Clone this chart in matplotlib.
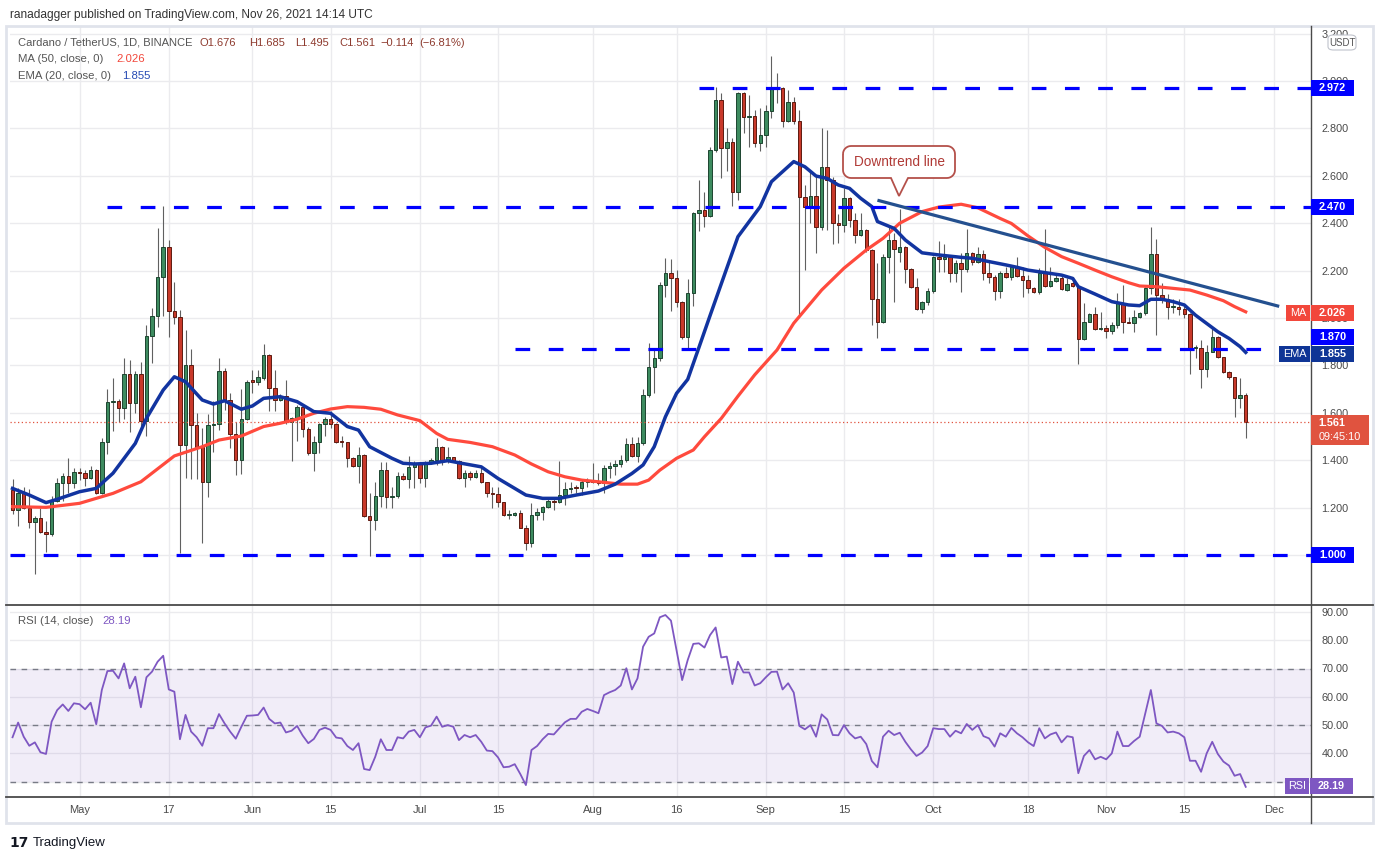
import numpy as np
import pandas as pd
import matplotlib
matplotlib.use("Agg")
import matplotlib.pyplot as plt
from matplotlib.patches import Rectangle, PathPatch, FancyBboxPatch
from matplotlib.path import Path
from matplotlib.lines import Line2D

plt.rcParams['font.family'] = ['Liberation Sans', 'DejaVu Sans']

# ---------------- data ----------------
start_date = "2021-04-19"

open_ = [1.274,1.190,1.260,1.197,1.138,1.155,1.096,1.087,1.229,1.302,
1.333,1.302,1.349,1.346,1.323,1.358,1.263,1.475,1.644,1.650,
1.619,1.762,1.640,1.762,1.565,1.925,2.008,2.174,2.298,2.030,
2.003,1.464,1.802,1.548,1.457,1.309,1.548,1.553,1.776,1.654,
1.509,1.401,1.573,1.738,1.731,1.748,1.844,1.703,1.654,1.672,
1.563,1.577,1.623,1.530,1.432,1.475,1.551,1.573,1.551,1.478,
1.475,1.411,1.377,1.422,1.166,1.148,1.250,1.359,1.246,1.249,
1.335,1.321,1.370,1.390,1.326,1.391,1.401,1.457,1.398,1.412,
1.398,1.323,1.344,1.330,1.344,1.306,1.260,1.258,1.222,1.169,
1.170,1.176,1.116,1.049,1.169,1.183,1.201,1.228,1.222,1.253,
1.278,1.284,1.281,1.309,1.316,1.309,1.302,1.365,1.377,1.384,
1.401,1.467,1.419,1.471,1.675,1.792,1.830,2.139,2.188,2.167,
2.069,1.921,2.104,2.441,2.456,2.432,2.709,2.920,2.719,2.741,
2.530,2.948,2.850,2.854,2.737,2.772,2.873,2.965,2.969,2.833,
2.913,2.833,2.512,2.470,2.516,2.383,2.639,2.582,2.402,2.392,
2.505,2.413,2.350,2.371,2.287,2.079,1.985,2.256,2.329,2.277,
2.301,2.205,2.129,2.037,2.066,2.114,2.259,2.248,2.256,2.188,
2.231,2.207,2.276,2.235,2.270,2.188,2.172,2.115,2.188,2.172,
2.217,2.179,2.160,2.125,2.108,2.188,2.136,2.156,2.170,2.118,
2.146,2.136,1.910,1.984,2.017,1.952,1.959,1.947,1.970,2.062,
1.982,1.980,2.003,2.020,2.125,2.269,2.097,2.079,2.045,2.048,
2.040,2.017,1.872,1.875,1.783,1.858,1.918,1.834,1.773,1.749,
1.661,1.676]

high = [1.321,1.281,1.285,1.278,1.165,1.197,1.143,1.249,1.326,1.344,
1.408,1.366,1.366,1.358,1.375,1.361,1.495,1.700,1.745,1.658,
1.830,1.823,1.776,1.816,1.970,2.041,2.378,2.473,2.329,2.150,
2.034,1.949,1.869,1.600,1.534,1.594,1.650,1.833,1.788,1.682,
1.560,1.699,1.738,1.781,1.781,1.890,1.848,1.781,1.678,1.738,
1.581,1.633,1.633,1.542,1.502,1.556,1.584,1.608,1.556,1.502,
1.478,1.415,1.457,1.425,1.260,1.307,1.394,1.391,1.288,1.352,
1.345,1.418,1.397,1.394,1.397,1.408,1.492,1.460,1.457,1.415,
1.401,1.358,1.354,1.358,1.370,1.310,1.288,1.288,1.225,1.190,
1.183,1.190,1.126,1.218,1.197,1.207,1.239,1.239,1.396,1.309,
1.309,1.295,1.320,1.326,1.387,1.344,1.380,1.394,1.401,1.422,
1.492,1.496,1.499,1.699,1.893,1.872,2.153,2.252,2.247,2.202,
2.073,2.164,2.448,2.582,2.533,2.723,2.973,2.948,2.800,2.758,
2.955,2.952,2.941,2.878,2.885,2.899,3.106,3.032,2.975,2.962,
2.934,2.878,2.561,2.624,2.603,2.800,2.793,2.596,2.439,2.547,
2.510,2.442,2.442,2.375,2.290,2.231,2.270,2.385,2.357,2.458,
2.305,2.210,2.170,2.070,2.125,2.262,2.326,2.311,2.259,2.245,
2.276,2.374,2.280,2.298,2.287,2.238,2.181,2.198,2.217,2.224,
2.256,2.217,2.181,2.132,2.210,2.374,2.214,2.181,2.179,2.167,
2.174,2.140,2.062,2.020,2.048,2.027,1.970,1.985,2.107,2.139,
2.006,2.034,2.027,2.132,2.383,2.332,2.149,2.100,2.079,2.079,
2.050,2.020,1.886,1.907,1.886,1.959,1.924,1.837,1.778,1.752,
1.745,1.685]

low = [1.172,1.124,1.195,1.112,0.918,1.091,1.014,1.080,1.225,1.229,
1.263,1.281,1.317,1.293,1.321,1.257,1.257,1.426,1.525,1.560,
1.574,1.518,1.598,1.544,1.502,1.812,1.963,2.010,1.918,1.973,
1.007,1.323,1.319,1.319,1.049,1.246,1.436,1.527,1.612,1.450,
1.336,1.342,1.570,1.682,1.717,1.738,1.608,1.608,1.650,1.553,
1.398,1.482,1.499,1.422,1.356,1.432,1.502,1.534,1.471,1.457,
1.373,1.370,1.302,1.160,0.997,1.106,1.201,1.197,1.197,1.239,
1.318,1.281,1.281,1.302,1.286,1.384,1.380,1.380,1.390,1.394,
1.321,1.285,1.316,1.327,1.302,1.246,1.197,1.204,1.164,1.152,
1.164,1.112,1.021,1.035,1.147,1.147,1.197,1.190,1.218,1.211,
1.260,1.260,1.253,1.285,1.302,1.295,1.260,1.323,1.337,1.373,
1.394,1.415,1.394,1.464,1.668,1.682,1.818,2.087,2.031,2.048,
1.910,1.872,2.050,2.368,2.385,2.428,2.702,2.592,2.620,2.474,
2.498,2.779,2.723,2.723,2.706,2.723,2.842,2.906,2.805,2.828,
2.820,2.006,2.203,2.399,2.273,2.371,2.371,2.312,2.315,2.364,
2.385,2.318,2.346,2.280,1.970,1.914,1.980,2.188,2.066,2.238,
2.146,2.125,2.034,2.022,2.055,2.104,2.195,2.195,2.153,2.150,
2.111,2.195,2.224,2.231,2.160,2.146,2.076,2.083,2.167,2.160,
2.174,2.090,2.104,2.104,2.101,2.132,2.132,2.153,2.118,2.115,
2.132,1.806,1.907,1.982,1.949,1.949,1.914,1.931,1.956,1.935,
1.978,1.942,1.999,2.013,2.100,1.928,2.064,1.994,2.022,2.012,
2.000,1.762,1.832,1.703,1.752,1.855,1.830,1.766,1.741,1.583,
1.619,1.495]

close_ = [1.190,1.260,1.197,1.138,1.155,1.096,1.087,1.229,1.302,1.333,
1.302,1.349,1.346,1.323,1.358,1.263,1.475,1.644,1.650,1.619,
1.762,1.640,1.762,1.565,1.925,2.008,2.174,2.298,2.030,2.003,
1.464,1.802,1.548,1.457,1.309,1.548,1.553,1.776,1.654,1.509,
1.401,1.573,1.731,1.731,1.752,1.844,1.703,1.654,1.672,1.563,
1.577,1.623,1.530,1.432,1.475,1.551,1.573,1.551,1.478,1.475,
1.411,1.377,1.422,1.166,1.148,1.250,1.359,1.246,1.249,1.335,
1.321,1.370,1.390,1.326,1.391,1.401,1.457,1.398,1.412,1.398,
1.323,1.344,1.330,1.344,1.306,1.260,1.258,1.222,1.169,1.170,
1.176,1.116,1.049,1.169,1.183,1.201,1.228,1.222,1.253,1.278,
1.284,1.281,1.309,1.316,1.309,1.302,1.365,1.377,1.384,1.401,
1.467,1.419,1.471,1.675,1.792,1.830,2.139,2.188,2.167,2.069,
1.921,2.104,2.441,2.456,2.432,2.709,2.920,2.719,2.741,2.530,
2.948,2.850,2.854,2.737,2.772,2.873,2.965,2.969,2.833,2.913,
2.833,2.512,2.470,2.516,2.383,2.639,2.582,2.402,2.392,2.505,
2.413,2.350,2.371,2.287,2.079,1.985,2.256,2.329,2.291,2.301,
2.205,2.129,2.037,2.066,2.114,2.256,2.248,2.256,2.188,2.231,
2.207,2.276,2.235,2.270,2.188,2.172,2.115,2.188,2.172,2.217,
2.179,2.160,2.125,2.108,2.188,2.136,2.156,2.170,2.121,2.142,
2.136,1.910,1.984,2.017,1.952,1.959,1.947,1.970,2.062,1.982,
1.980,2.003,2.020,2.125,2.269,2.097,2.079,2.045,2.048,2.040,
2.017,1.872,1.875,1.783,1.858,1.918,1.834,1.773,1.749,1.661,
1.676,1.561]

# EMA(20) and MA(50) read at sampled days (day offset from start_date)
ema_day = [0,3,6,8,12,15,18,22,24,27,29,31,34,36,38,41,43,45,48,51,
54,57,60,62,64,68,70,72,75,78,80,84,87,92,95,98,101,105,108,111,
113,115,117,119,121,123,125,128,130,134,136,140,142,144,146,148,150,152,154,155,
158,160,163,166,170,172,175,178,180,182,184,188,190,191,194,197,200,202,204,206,
208,210,212,214,216,218,220,221]
ema_val = [1.281,1.253,1.221,1.235,1.267,1.281,1.345,1.471,1.577,1.696,1.752,1.731,1.654,1.637,1.651,1.615,1.629,1.661,1.668,1.647,
1.605,1.598,1.542,1.527,1.457,1.408,1.387,1.384,1.387,1.398,1.389,1.372,1.323,1.253,1.239,1.239,1.253,1.270,1.299,1.344,
1.380,1.457,1.583,1.682,1.741,1.875,2.010,2.210,2.343,2.470,2.575,2.660,2.638,2.599,2.589,2.561,2.547,2.505,2.470,2.407,
2.378,2.329,2.275,2.266,2.256,2.252,2.238,2.224,2.214,2.202,2.195,2.181,2.167,2.132,2.101,2.069,2.055,2.052,2.079,2.079,
2.069,2.055,2.012,1.977,1.942,1.914,1.879,1.855]

ma_day = [0,6,12,18,23,29,34,37,41,45,48,51,54,57,60,63,66,69,73,76,
78,82,86,90,93,96,99,102,105,109,112,114,116,119,122,124,127,130,133,137,
140,145,149,153,156,159,163,166,170,173,177,179,182,185,188,191,194,197,200,202,
205,208,211,214,217,219,221]
ma_val = [1.204,1.201,1.218,1.260,1.309,1.418,1.457,1.485,1.502,1.542,1.556,1.573,1.598,1.616,1.626,1.623,1.615,1.591,1.567,1.513,
1.488,1.475,1.457,1.422,1.384,1.351,1.330,1.316,1.309,1.299,1.299,1.316,1.358,1.408,1.443,1.499,1.576,1.670,1.760,1.865,
1.978,2.118,2.210,2.287,2.336,2.400,2.449,2.468,2.480,2.465,2.420,2.399,2.346,2.298,2.259,2.231,2.202,2.174,2.149,2.135,
2.132,2.125,2.118,2.097,2.073,2.048,2.026]

rsi = [45.7,50.9,45.9,42.7,43.9,40.4,39.8,51.2,55.3,57.3,
55.0,57.7,57.4,55.6,57.9,50.3,62.4,69.1,69.2,66.5,
71.8,63.0,67.1,56.3,66.9,68.9,72.4,74.5,62.6,61.8,
45.0,53.6,47.7,45.7,42.7,48.9,48.9,53.9,50.6,47.7,
45.2,49.4,53.3,53.4,53.6,56.2,52.2,50.6,50.9,47.4,
48.0,49.7,46.3,43.6,45.1,48.3,49.1,48.3,45.6,45.3,
42.6,41.2,43.6,34.5,34.1,38.8,45.0,41.2,41.2,45.7,
45.3,47.7,48.3,45.7,49.2,49.8,53.0,49.4,50.0,49.4,
44.7,46.5,45.7,46.5,44.1,41.0,40.8,38.6,35.1,35.3,
36.2,32.7,28.8,41.2,42.6,45.0,46.9,46.7,48.9,51.0,
52.2,52.2,54.7,55.7,55.0,54.2,60.6,61.6,62.4,64.0,
70.1,62.6,66.5,77.7,81.2,82.4,88.1,88.9,86.9,76.5,
65.9,73.0,78.7,78.9,
77.4,81.8,84.5,73.9,74.2,64.5,72.4,68.6,68.6,64.0,
64.8,66.9,68.8,68.9,62.6,64.8,61.5,49.7,48.5,50.0,
45.9,53.8,52.0,46.5,46.4,50.0,47.1,45.3,45.9,43.3,
37.3,35.1,45.9,48.0,46.5,47.3,44.1,41.4,39.1,40.3,
42.6,48.9,48.6,48.6,45.9,48.0,47.1,50.4,48.3,50.0,
46.1,45.3,42.4,47.1,45.9,49.0,47.1,45.7,43.9,42.6,
48.9,45.3,46.7,47.4,43.9,46.1,45.7,33.0,39.1,41.2,
37.9,38.8,37.9,40.0,47.7,42.6,42.6,44.4,45.9,54.2,
62.4,50.6,49.7,47.4,47.7,47.1,45.7,37.4,37.4,33.5,
40.0,44.1,39.8,37.1,35.7,32.1,32.7,28.19]

level_values = [2.972, 2.470, 1.870, 1.000]
level_labels = ["2.972", "2.470", "1.870", "1.000"]
level_start = ["2021-08-20", "2021-05-06", "2021-07-18", None]

trend_dates = ["2021-09-21", "2021-12-02"]
trend_values = [2.497, 2.049]

tick_dates = ["2021-05-01", "2021-05-17", "2021-06-01", "2021-06-15", "2021-07-01",
              "2021-07-15", "2021-08-01", "2021-08-16", "2021-09-01", "2021-09-15",
              "2021-10-01", "2021-10-18", "2021-11-01", "2021-11-15", "2021-12-01"]
tick_labels = ["May", "17", "Jun", "15", "Jul", "15", "Aug", "16", "Sep", "15",
               "Oct", "18", "Nov", "15", "Dec"]

price_ticks = [1.0, 1.2, 1.4, 1.6, 1.8, 2.0, 2.2, 2.4, 2.6, 2.8, 3.0, 3.2]
rsi_ticks = [30, 40, 50, 60, 70, 80, 90]

# ---------------- layout helpers ----------------
W, H = 1383, 860
t0 = pd.Timestamp(start_date)
def dpos(d):
    return (pd.Timestamp(d) - t0).days

def fx(px): return px / W
def fy(py): return 1 - py / H
def px_to_price(py): return 1 + (555 - py) / 237.0
def px_to_idx(px): return 12 + (px - 79.5) / 5.58
def px_to_rsi(py): return 30 + (781.7 - py) / 2.83

fig = plt.figure(figsize=(W / 100, H / 100), dpi=100)
fig.patch.set_facecolor("white")

axp = fig.add_axes([fx(10), fy(605), fx(1311) - fx(10), fy(26) - fy(605)])
axr = fig.add_axes([fx(10), fy(797), fx(1311) - fx(10), fy(605) - fy(797)])
xl = (px_to_idx(10), px_to_idx(1311))
for a in (axp, axr):
    a.set_xlim(xl)
    a.set_facecolor("white")
    for s in a.spines.values():
        s.set_visible(False)
axp.set_ylim(px_to_price(605), px_to_price(26))
axr.set_ylim(px_to_rsi(797), px_to_rsi(605))

tick_pos = [dpos(d) for d in tick_dates]
grid_c = "#ebebee"
for a in (axp, axr):
    a.set_xticks(tick_pos)
    a.grid(True, color=grid_c, lw=1.0, zorder=0)
    a.set_axisbelow(True)
    a.yaxis.tick_right()
axp.tick_params(axis="x", length=0, labelbottom=False)
axr.set_xticklabels(tick_labels)
axr.tick_params(axis="x", length=0, pad=6, labelsize=8, labelcolor="#4a4a4a")

axp.set_yticks(price_ticks)
axp.set_yticklabels(["%.3f" % v for v in price_ticks])
axp.tick_params(axis="y", length=0, pad=7.5, labelsize=7.8, labelcolor="#4a4a4a")
axr.set_yticks(rsi_ticks)
axr.set_yticklabels(["%.2f" % v for v in rsi_ticks])
axr.tick_params(axis="y", length=0, pad=7.5, labelsize=7.8, labelcolor="#4a4a4a")

# ---------------- candles ----------------
o = np.array(open_); h = np.array(high); l = np.array(low); c = np.array(close_)
idx = np.arange(len(c))
up = c >= o
axp.vlines(idx, l, h, color="#606060", lw=0.8, zorder=2)
bb = np.minimum(o, c)
bh = np.maximum(np.abs(c - o), 0.004)
axp.bar(idx[up], bh[up], bottom=bb[up], width=0.62, color="#3d8b5f",
        edgecolor="#1d4530", linewidth=0.7, zorder=3)
axp.bar(idx[~up], bh[~up], bottom=bb[~up], width=0.62, color="#c8392a",
        edgecolor="#5e1a10", linewidth=0.7, zorder=3)

# moving averages
axp.plot(ma_day, ma_val, color="#ff4a3d", lw=2.3, zorder=5, solid_joinstyle="round")
axp.plot(ema_day, ema_val, color="#1234a0", lw=2.5, zorder=6, solid_joinstyle="round")

# horizontal levels
for v, s in zip(level_values, level_start):
    x0 = xl[0] if s is None else dpos(s)
    axp.plot([x0, xl[1]], [v, v], color="#0000ff", lw=2.3, dashes=(4.6, 5.8),
             zorder=7, solid_capstyle="butt", dash_capstyle="butt")

# downtrend line
axp.plot([dpos(d) for d in trend_dates], trend_values, color="#24508f", lw=2.3,
         zorder=8, solid_capstyle="butt")

# last price dotted line
axp.axhline(close_[-1], color="#e0533f", lw=0.9, ls=(0, (1, 2)), zorder=4)

# ---------------- RSI ----------------
axr.axhspan(30, 70, color="#7e57c2", alpha=0.1, lw=0, zorder=1)
for v in (30, 50, 70):
    axr.axhline(v, color="#787b86", lw=1.0, dashes=(4, 4), zorder=2)
axr.plot(idx, rsi, color="#7e57c2", lw=1.3, zorder=3)

# ---------------- frame & separators ----------------
fig.add_artist(Rectangle((fx(6), fy(823)), fx(1373) - fx(6), fy(26) - fy(823),
                         transform=fig.transFigure, fill=False, ec="#e0e3eb", lw=2, zorder=1))
for yy in (605, 797):
    fig.add_artist(Line2D([fx(6), fx(1373)], [fy(yy), fy(yy)], transform=fig.transFigure,
                          color="#4a4a4a", lw=1.3, zorder=2))
fig.add_artist(Line2D([fx(1311), fx(1311)], [fy(26), fy(823)], transform=fig.transFigure,
                      color="#4a4a4a", lw=1.0, zorder=2))

# ---------------- label boxes on the right axis ----------------
def box(x0, x1, yc, hgt, fc, text, tc="white", fs=7.8, weight="bold"):
    fig.add_artist(Rectangle((fx(x0), fy(yc + hgt / 2)), fx(x1) - fx(x0), hgt / H,
                             transform=fig.transFigure, fc=fc, ec="none", zorder=5))
    fig.text(fx((x0 + x1) / 2), fy(yc), text, color=tc, ha="center", va="center",
             fontsize=fs, fontweight=weight, zorder=6)

def price_to_px(p): return 555 - (p - 1) * 237.0

for v, lab in zip(level_values, level_labels):
    yc = price_to_px(v)
    if lab == "1.870":
        yc = 337
    box(1311, 1354, yc, 16, "#0000ff", lab)

box(1286, 1310, 313, 16, "#f2473b", "MA", weight="normal")
box(1311, 1354, 313, 16, "#f2473b", "2.026")
box(1279, 1310, 354, 16, "#0f3596", "EMA", weight="normal")
box(1311, 1354, 354, 16, "#0f3596", "1.855")
# last price box (two lines)
fig.add_artist(Rectangle((fx(1311), fy(445)), fx(1369) - fx(1311), 30 / H,
                         transform=fig.transFigure, fc="#e0533f", ec="none", zorder=5))
fig.text(fx(1332), fy(423), "1.561", color="white", ha="center", va="center",
         fontsize=7.8, fontweight="bold", zorder=6)
fig.text(fx(1340), fy(437.5), "09:45:10", color="white", ha="center", va="center",
         fontsize=7.8, zorder=6)
box(1285, 1309, 786, 16, "#7e57c2", "RSI", weight="normal")
box(1310, 1353, 786, 16, "#7e57c2", "28.19")

# USDT tag
fig.add_artist(FancyBboxPatch((fx(1328), fy(50)), fx(1356) - fx(1328), 15 / H,
                              boxstyle="round,pad=0.0,rounding_size=0.004",
                              transform=fig.transFigure, fc="white", ec="#c0c3cc",
                              lw=0.8, zorder=5))
fig.text(fx(1342), fy(42.5), "USDT", color="#555555", ha="center", va="center",
         fontsize=7, zorder=6)

# ---------------- callout ----------------
def callout(x0, y0, x1, y1, r, tb0, tb1, tip):
    pts = []
    def arc(cx, cy, a0, a1):
        for t in np.linspace(a0, a1, 8):
            pts.append((cx + r * np.cos(t), cy + r * np.sin(t)))
    arc(x0 + r, y0 + r, np.pi, 1.5 * np.pi)
    arc(x1 - r, y0 + r, 1.5 * np.pi, 2 * np.pi)
    arc(x1 - r, y1 - r, 0, 0.5 * np.pi)
    pts += [(tb1, y1), tip, (tb0, y1)]
    arc(x0 + r, y1 - r, 0.5 * np.pi, np.pi)
    pts.append(pts[0])
    verts = [(fx(a), fy(b)) for a, b in pts]
    return Path(verts)

fig.add_artist(PathPatch(callout(843, 146, 955, 178, 8, 891, 908, (899, 196)),
                         transform=fig.transFigure, fc="white", ec="#b4504a",
                         lw=1.3, zorder=5))
fig.text(fx(899), fy(162), "Downtrend line", color="#b03a36", ha="center",
         va="center", fontsize=9.8, zorder=6)

# ---------------- header texts ----------------
fig.text(fx(10), fy(15), "ranadagger published on TradingView.com, Nov 26, 2021 14:14 UTC",
         fontsize=8.6, color="#333333", va="center")
fig.text(fx(18), fy(42.5), "Cardano / TetherUS, 1D, BINANCE", fontsize=8.0,
         color="#555555", va="center")
ohlc_col = "#8e3b2f"
for xp, t in [(199, "O1.676"), (249, "H1.685"), (295, "L1.495"), (339, "C1.561"),
              (380, "\u22120.114"), (419, "(\u22126.81%)")]:
    fig.text(fx(xp), fy(42.5), t, fontsize=8.0, color=ohlc_col, va="center")
fig.text(fx(18), fy(59), "MA (50, close, 0)", fontsize=8.2, color="#555555", va="center")
fig.text(fx(116), fy(59), "2.026", fontsize=8.2, color="#f2473b", va="center")
fig.text(fx(18), fy(76), "EMA (20, close, 0)", fontsize=8.2, color="#555555", va="center")
fig.text(fx(122), fy(76), "1.855", fontsize=8.2, color="#2449b3", va="center")
fig.text(fx(18), fy(620.5), "RSI (14, close)", fontsize=8.2, color="#555555", va="center")
fig.text(fx(102), fy(620.5), "28.19", fontsize=8.2, color="#7e57c2", va="center")

# footer logo
fig.text(fx(9), fy(843), "17", fontsize=10, fontweight="bold", color="#131722",
         va="center", family="DejaVu Sans")
fig.text(fx(33), fy(843), "TradingView", fontsize=9.5, color="#131722", va="center")

fig.savefig("out.png", dpi=100, facecolor="white")
